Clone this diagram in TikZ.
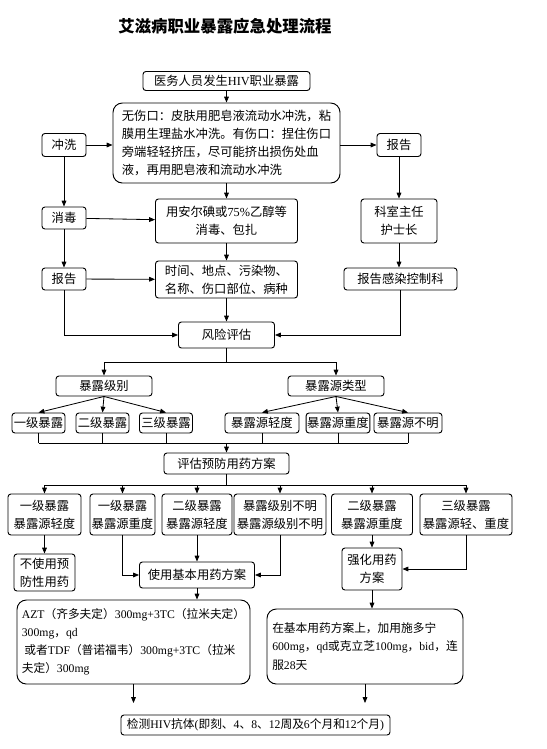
\documentclass[tikz,border=0pt]{standalone}
\usepackage{fontspec}
\setmainfont{Noto Sans CJK SC}
\newfontfamily\latfont{Liberation Serif}
\usetikzlibrary{arrows.meta}
\newcommand\lat[1]{{\latfont #1}}
\newcommand\bodyfs{\fontsize{10.5}{15.5}\selectfont}
\newcommand\smallfs{\fontsize{10}{15.5}\selectfont}

\begin{document}
\begin{tikzpicture}[x=0.03cm,y=-0.03cm,
  box/.style 2 args={draw,line width=0.8pt,rounded corners=2.5pt,align=center,inner sep=1pt,
    minimum width=#1*0.03cm,minimum height=#2*0.03cm,font=\bodyfs},
  bigbox/.style 2 args={box={#1}{#2},rounded corners=8pt,align=left},
  arr/.style={-{Triangle[length=5pt,width=4pt]},line width=0.7pt}]
  \useasboundingbox (0,0) rectangle (546,749);
  \node[font=\fontsize{14}{16}\selectfont\bfseries] (title) at (225,26) {艾滋病职业暴露应急处理流程};
  \node[box={167}{19}] (top) at (226.5,81) {医务人员发生\lat{HIV}职业暴露};
  \node[bigbox={227}{80}] (big) at (226.5,143) {无伤口：皮肤用肥皂液流动水冲洗，粘\\膜用生理盐水冲洗。有伤口：捏住伤口\\旁端轻轻挤压，尽可能挤出损伤处血\\液，再用肥皂液和流动水冲洗};
  \node[box={44}{23}] (wash) at (64,145) {冲洗};
  \node[box={44}{23}] (rep1) at (399,145) {报告};
  \node[box={44}{22}] (disinf) at (64,218) {消毒};
  \node[box={142}{44}] (iodine) at (226.5,221) {用安尔碘或\lat{75\%}乙醇等\\消毒、包扎};
  \node[box={76}{44}] (head) at (399,221) {科室主任\\护士长};
  \node[box={44}{22}] (rep2) at (64,279) {报告};
  \node[box={142}{37}] (record) at (226.5,279.5) {时间、地点、污染物、\\名称、伤口部位、病种};
  \node[box={113}{22}] (infctl) at (400.5,279) {报告感染控制科};
  \node[box={96}{26}] (risk) at (226.5,335) {风险评估};
  \node[box={96}{20}] (level) at (104,386) {暴露级别};
  \node[box={96}{20}] (source) at (336,386) {暴露源类型};
  \node[box={53}{20}] (l1) at (38.5,423) {一级暴露};
  \node[box={53}{20}] (l2) at (102.5,423) {二级暴露};
  \node[box={53}{20}] (l3) at (166,423) {三级暴露};
  \node[box={74}{20}] (s1) at (262,423) {暴露源轻度};
  \node[box={62}{20}] (s2) at (338,423) {暴露源重度};
  \node[box={68}{20}] (s3) at (408,423) {暴露源不明};
  \node[box={125}{21}] (plan) at (226.5,463.5) {评估预防用药方案};
  \node[box={73}{41}] (case1) at (44.5,514.5) {一级暴露\\暴露源轻度};
  \node[box={65}{41}] (case2) at (122.5,514.5) {一级暴露\\暴露源重度};
  \node[box={70}{41}] (case3) at (197,514.5) {二级暴露\\暴露源轻度};
  \node[box={92}{41}] (case4) at (280,514.5) {暴露级别不明\\暴露源级别不明};
  \node[box={81}{41}] (case5) at (372,514.5) {二级暴露\\暴露源重度};
  \node[box={92}{41}] (case6) at (466,514.5) {三级暴露\\暴露源轻、重度};
  \node[box={61}{37}] (nodrug) at (44.5,572.5) {不使用预\\防性用药};
  \node[box={115}{26}] (basic) at (197,575) {使用基本用药方案};
  \node[box={60}{42}] (strong) at (372,569) {强化用药\\方案};
  \node[bigbox={233}{84},font=\smallfs] (azt) at (133.5,642) {\lat{AZT}（齐多夫定）\lat{300mg+3TC}（拉米夫定）\\\lat{300mg}，\lat{qd}\\\ 或者\lat{TDF}（普诺福韦）\lat{300mg+3TC}（拉米\\夫定）\lat{300mg}};
  \node[bigbox={196}{75},font=\smallfs] (plus) at (365,646.5) {在基本用药方案上，加用施多宁\\\lat{600mg}，\lat{qd}或克立芝\lat{100mg}，\lat{bid}，连\\服\lat{28}天};
  \node[box={269}{20},font=\smallfs] (test) at (255.5,725) {检测\lat{HIV}抗体\lat{(}即刻、\lat{4}、\lat{8}、\lat{12}周及\lat{6}个月和\lat{12}个月\lat{)}};
  \draw[arr] (top) -- (big);
  \draw[arr] (wash) -- (wash -| big.west);
  \draw[arr] (big.east |- rep1) -- (rep1);
  \draw[arr] (wash) -- (disinf);
  \draw[arr] (disinf) -- (rep2);
  \draw[arr] (disinf) -- (iodine);
  \draw[arr] (big) -- (iodine);
  \draw[arr] (iodine) -- (record);
  \draw[arr] (rep2) -- (record);
  \draw[arr] (rep1) -- (head);
  \draw[arr] (head) -- (head |- infctl.north);
  \draw[arr] (record) -- (risk);
  \draw[arr] (rep2) |- (risk);
  \draw[arr] (infctl) |- (risk);
  \draw (risk.south) -- ++(0,14) coordinate (split1);
  \draw[arr] (split1) -| (level);
  \draw[arr] (split1) -| (source);
  \foreach \n in {l1,l2,l3} \draw[arr] (level.south) -- (\n.north);
  \foreach \n in {s1,s2,s3} \draw[arr] (source.south) -- (\n.north);
  \coordinate (join1) at (226.5,443);
  \foreach \n in {l1,l2,l3,s1,s2,s3} \draw (\n) -- (\n |- join1);
  \draw (l1 |- join1) -- (s3 |- join1);
  \draw[arr] (join1) -- (plan);
  \draw (plan.south) -- ++(0,11) coordinate (join2);
  \draw (case1 |- join2) -- (case6 |- join2);
  \foreach \i in {1,...,6} \draw[arr] (case\i |- join2) -- (case\i);
  \draw[arr] (case1) -- (nodrug);
  \draw[arr] (case2) |- (basic);
  \draw[arr] (case3) -- (basic);
  \draw[arr] (case4) |- (basic);
  \draw[arr] (case5) -- (strong);
  \draw[arr] (case6) |- (strong);
  \draw[arr] (basic) -- (basic |- azt.north);
  \draw[arr] (strong) -- (strong |- plus.north);
  \coordinate (end1) at (133.5,703);
  \coordinate (end2) at (365,703);
  \draw[arr] (azt) -- (end1);
  \draw[arr] (plus) -- (end2);
\end{tikzpicture}
\end{document}
